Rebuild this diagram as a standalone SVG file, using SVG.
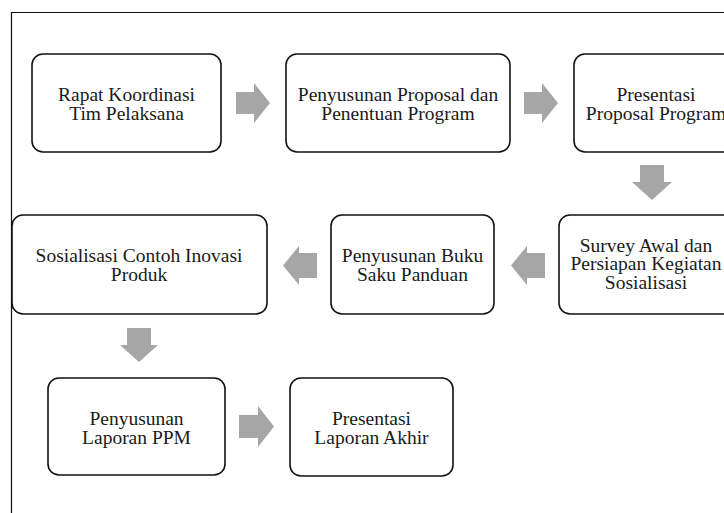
<svg xmlns="http://www.w3.org/2000/svg" width="724" height="513" viewBox="0 0 724 513">
<style>
.box{fill:#fff;stroke:#111;stroke-width:1.6}
.t{font-family:"Liberation Serif","Times New Roman",serif;font-size:19.5px;fill:#1a1a1a;text-anchor:middle}
.arr{fill:#a6a6a6;stroke:none}
.frame{stroke:#111;stroke-width:1.2;fill:none}
</style>
<rect width="724" height="513" fill="#fff"/>
<path class="frame" d="M11.5 513 V12.5 H724"/>
<g id="n1"><rect class="box" x="32" y="54" width="189" height="98" rx="11"/>
<text class="t" x="126.5" y="101">Rapat Koordinasi</text><text class="t" x="126.5" y="120">Tim Pelaksana</text></g>
<g id="n2"><rect class="box" x="286" y="54" width="224" height="98" rx="11"/>
<text class="t" x="398" y="101">Penyusunan Proposal dan</text><text class="t" x="398" y="120">Penentuan Program</text></g>
<g id="n3"><rect class="box" x="574" y="54" width="164" height="98" rx="11"/>
<text class="t" x="656" y="101">Presentasi</text><text class="t" x="656" y="120">Proposal Program</text></g>
<g id="n4"><rect class="box" x="559" y="215" width="176" height="99" rx="11"/>
<text class="t" x="646" y="251.5">Survey Awal dan</text><text class="t" x="646" y="270">Persiapan Kegiatan</text><text class="t" x="646" y="288.5">Sosialisasi</text></g>
<g id="n5"><rect class="box" x="331" y="215" width="163" height="99" rx="11"/>
<text class="t" x="412.5" y="262">Penyusunan Buku</text><text class="t" x="412.5" y="281">Saku Panduan</text></g>
<g id="n6"><rect class="box" x="12" y="215" width="255" height="99" rx="11"/>
<text class="t" x="139" y="262">Sosialisasi Contoh Inovasi</text><text class="t" x="139" y="281">Produk</text></g>
<g id="n7"><rect class="box" x="48" y="378" width="177" height="97" rx="11"/>
<text class="t" x="136.5" y="425">Penyusunan</text><text class="t" x="136.5" y="444">Laporan PPM</text></g>
<g id="n8"><rect class="box" x="290" y="378" width="163" height="98" rx="11"/>
<text class="t" x="371.5" y="425">Presentasi</text><text class="t" x="371.5" y="444">Laporan Akhir</text></g>
<g id="connectors">
<polygon class="arr" points="236,92 254,92 254,83 270,103 254,123 254,114 236,114"/>
<polygon class="arr" points="524,92 542,92 542,83 558,103 542,123 542,114 524,114"/>
<polygon class="arr" points="640,165 664,165 664,182 672,182 652,200 632,182 640,182"/>
<polygon class="arr" points="545,253 527,253 527,246 511,265.5 527,285 527,278 545,278"/>
<polygon class="arr" points="317,253 299,253 299,246 283,265.5 299,285 299,278 317,278"/>
<polygon class="arr" points="127,328 151,328 151,345 158,345 139,362 120,345 127,345"/>
<polygon class="arr" points="239,415 258,415 258,406 274,426.5 258,447 258,438 239,438"/>
</g>
</svg>
